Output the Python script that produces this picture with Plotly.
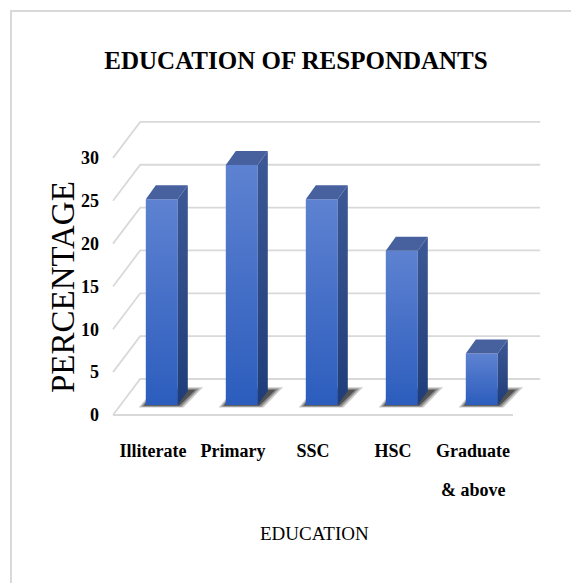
import plotly.graph_objects as go

# ---- data -------------------------------------------------------------
categories = ["Illiterate", "Primary", "SSC", "HSC", "Graduate<br>& above"]
percentages = [24, 28, 24, 18, 6]
y_ticks = [0, 5, 10, 15, 20, 25, 30]

# ---- oblique 3-D projection, expressed in axis units --------------------
WALL_DX, WALL_DY = 0.34, 4.2        # depth of floor / back wall
BAR_DX, BAR_DY = 0.11, 1.17         # bar front face set back from floor edge
BAR_HALF = 0.2                      # half width of a bar (category units)
BAR_DEPTH_X, BAR_DEPTH_Y = 0.125, 1.63

SERIF = "Liberation Serif, Times New Roman, serif"
GRID = "#d9d9d9"

n = len(categories)
left, right = -0.5, n - 0.5

fig = go.Figure()

# gridlines: short diagonal on the side wall, then across the back wall
gx, gy = [], []
for v in y_ticks:
    gx += [left, left + WALL_DX, right + WALL_DX, None]
    gy += [v, v + WALL_DY, v + WALL_DY, None]
gx += [left, right, None]
gy += [0, 0, None]
fig.add_trace(go.Scatter(x=gx, y=gy, mode="lines",
                         line=dict(color=GRID, width=1.8),
                         hoverinfo="skip", showlegend=False))


def poly(xs, ys, **kw):
    fig.add_trace(go.Scatter(x=xs + [xs[0]], y=ys + [ys[0]], mode="none",
                             fill="toself", hoverinfo="skip",
                             showlegend=False, **kw))


# soft floor shadows behind each bar
for i, v in enumerate(percentages):
    x0 = i + BAR_DX - BAR_HALF
    x1 = i + BAR_DX + BAR_HALF
    b = BAR_DY
    for grow, alpha in [(1.0, 0.22), (0.65, 0.32), (0.3, 0.5)]:
        poly([x0 - 0.09 * grow, x1 + 0.07 * grow,
              x1 + BAR_DEPTH_X + 0.06 + 0.13 * grow, x0 + BAR_DEPTH_X],
             [b - 0.3 * grow, b - 0.3 * grow,
              b + BAR_DEPTH_Y + 0.45 * grow, b + BAR_DEPTH_Y + 0.45 * grow],
             fillcolor=f"rgba(20,20,20,{alpha})")

# the bars: front, side and top faces
for i, v in enumerate(percentages):
    x0 = i + BAR_DX - BAR_HALF
    x1 = i + BAR_DX + BAR_HALF
    b = BAR_DY
    # front face
    poly([x0, x1, x1, x0], [b, b, b + v, b + v],
         fillgradient=dict(type="vertical",
                           colorscale=[[0, "#2c5dbd"], [1, "#5e82d1"]]))
    # right side face
    poly([x1, x1 + BAR_DEPTH_X, x1 + BAR_DEPTH_X, x1],
         [b, b + BAR_DEPTH_Y, b + v + BAR_DEPTH_Y, b + v],
         fillgradient=dict(type="vertical",
                           colorscale=[[0, "#1f3d79"], [1, "#3c5896"]]))
    # top face
    poly([x0, x1, x1 + BAR_DEPTH_X, x0 + BAR_DEPTH_X],
         [b + v, b + v, b + v + BAR_DEPTH_Y, b + v + BAR_DEPTH_Y],
         fillcolor="#47619f")

tick_font = dict(family=SERIF, size=18, color="black", weight="bold")

# category labels: first line as the tick label, any continuation line
# is set a little lower, as a separate text line under the tick
first_lines = [c.split("<br>")[0] for c in categories]
more_lines = [dict(text="<br>".join(c.split("<br>")[1:]), x=i, xref="x",
                   y=(430 - 490) / 320, yref="paper",
                   xanchor="center", yanchor="middle", showarrow=False,
                   font=tick_font)
              for i, c in enumerate(categories) if "<br>" in c]

fig.update_layout(
    width=571, height=583,
    margin=dict(l=100, r=21, t=110, b=153),
    paper_bgcolor="white", plot_bgcolor="white",
    showlegend=False,
    title=dict(text="EDUCATION OF RESPONDANTS",
               font=dict(family=SERIF, size=25, color="black", weight="bold"),
               x=296 / 571, xanchor="center", xref="container",
               y=1 - 60 / 583, yanchor="middle", yref="container"),
    xaxis=dict(range=[-0.6625, 4.9625], tickvals=list(range(n)),
               ticktext=first_lines, tickfont=tick_font, ticklabelstandoff=8,
               showgrid=False, zeroline=False, showline=False, ticks=""),
    yaxis=dict(range=[-1.75, 35.59], tickvals=y_ticks, tickfont=tick_font,
               showgrid=False, zeroline=False, showline=False, ticks=""),
    annotations=more_lines + [
        dict(text="EDUCATION", xref="paper", yref="paper",
             x=(314 - 100) / 450, y=(430 - 533) / 320,
             xanchor="center", yanchor="middle", showarrow=False,
             font=dict(family=SERIF, size=19, color="black")),
        dict(text="PERCENTAGE", xref="paper", yref="paper",
             x=(63 - 100) / 450, y=(430 - 287) / 320, textangle=-90,
             xanchor="center", yanchor="middle", showarrow=False,
             font=dict(family=SERIF, size=33, color="black")),
    ],
    shapes=[dict(type="rect", xref="paper", yref="paper",
                 x0=(11 - 100) / 450, x1=(600 - 100) / 450,
                 y0=(430 - 600) / 320, y1=(430 - 11) / 320,
                 line=dict(color=GRID, width=2), layer="below")],
)

fig.write_html("out.html")
